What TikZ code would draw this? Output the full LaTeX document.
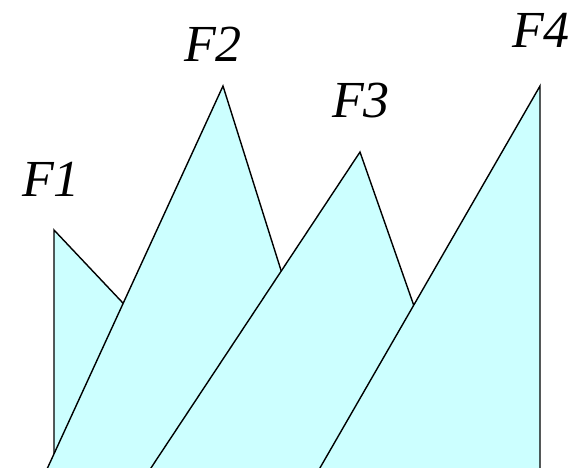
\documentclass[tikz,border=0pt]{standalone}
\usepackage{fontspec}
\setmainfont{Liberation Serif}
\definecolor{facefill}{HTML}{CCFFFF}
\begin{document}
\begin{tikzpicture}[x=1pt, y=-1pt,
	face/.style={draw, fill=facefill, line width=1.4pt, line join=miter},
	lbl/.style={font=\fontsize{52}{60}\selectfont\itshape, anchor=base, inner sep=0pt},
	]
	
	\clip (0,0) rectangle (573,467);
	
	% apexes of the four faces
	\coordinate (t1) at (54,230);
	\coordinate (t2) at (223,86);
	\coordinate (t3) at (360,152);
	\coordinate (t4) at (540,86);
	
	% drawn back to front
	\draw[face] (54,480)  -- (t1) -- (290,480) -- cycle;
	\draw[face] (42,480)  -- (t2) -- (347,480) -- cycle;
	\draw[face] (143,480) -- (t3) -- (475,480) -- cycle;
	\draw[face] (313,480) -- (t4) -- (540,480) -- cycle;
	
	\node[lbl] (f1) at (51,196) {F1};
	\node[lbl] (f2) at (213,61) {F2};
	\node[lbl] (f3) at (361,117) {F3};
	\node[lbl] (f4) at (541,47) {F4};
	
\end{tikzpicture}
\end{document}
